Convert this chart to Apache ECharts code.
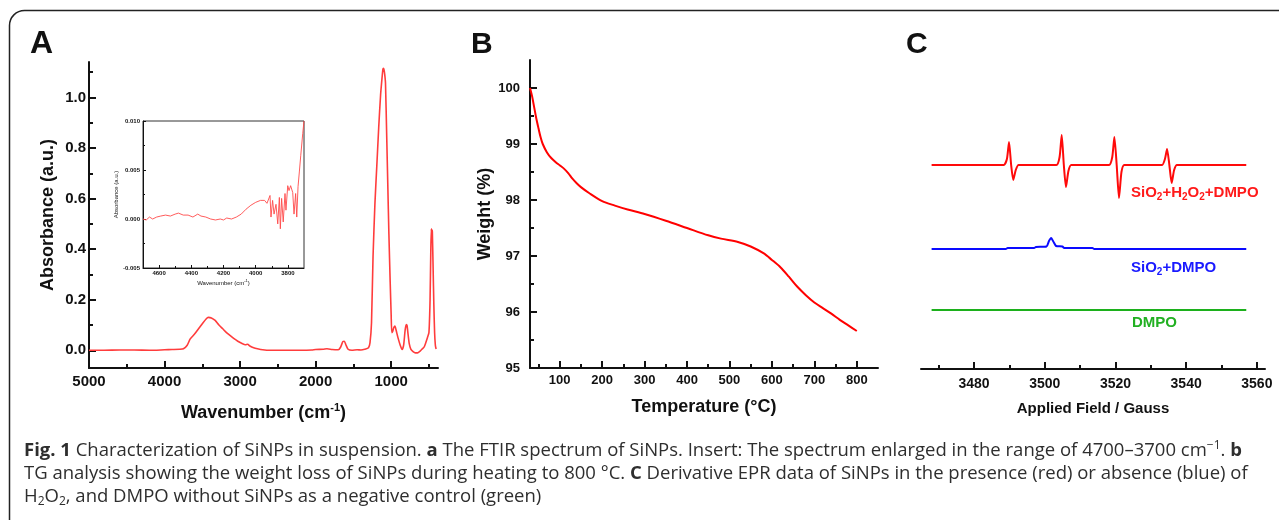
<!DOCTYPE html>
<html><head><meta charset="utf-8">
<script src="https://cdn.jsdelivr.net/npm/echarts@6/dist/echarts.min.js"></script>
<style>html,body{margin:0;padding:0;background:#fff}#c{width:1279px;height:520px}</style>
</head><body><div id="c"></div>
<script>
// ---------- Panel A: FTIR spectrum (wavenumber cm-1, absorbance a.u.) ----------
const ftirSpectrum = [
[5000,0.000],[4800,0.000],[4600,0.001],[4400,0.001],[4200,0.000],[4000,0.002],[3900,0.003],[3800,0.004],[3750,0.006],[3700,0.020],
[3660,0.045],[3600,0.065],[3550,0.085],[3500,0.105],[3450,0.124],[3420,0.130],[3380,0.128],[3330,0.118],[3280,0.100],[3230,0.085],
[3180,0.070],[3130,0.058],[3080,0.046],[3030,0.036],[2980,0.028],[2930,0.022],[2900,0.024],[2870,0.017],[2820,0.010],[2770,0.006],
[2700,0.002],[2600,0.000],[2400,0.000],[2200,0.000],[2050,0.001],[2000,0.003],[1900,0.004],[1850,0.006],[1780,0.003],[1700,0.002],
[1670,0.012],[1640,0.034],[1620,0.036],[1600,0.022],[1570,0.004],[1520,0.000],[1450,0.002],[1400,0.001],[1350,0.004],[1300,0.010],
[1280,0.030],[1260,0.110],[1240,0.370],[1215,0.580],[1190,0.730],[1165,0.880],[1140,1.010],[1120,1.080],[1110,1.110],[1102,1.115],
[1095,1.110],[1085,1.090],[1075,1.056],[1060,0.860],[1045,0.660],[1030,0.460],[1013,0.270],[1000,0.140],[992,0.070],[980,0.075],
[965,0.090],[950,0.096],[935,0.080],[910,0.050],[880,0.020],[855,0.003],[835,0.020],[815,0.080],[800,0.102],[790,0.098],
[775,0.060],[760,0.025],[740,0.005],[710,-0.005],[680,-0.010],[650,-0.010],[620,-0.004],[590,0.005],[560,0.015],[520,0.050],
[500,0.070],[485,0.200],[475,0.400],[468,0.480],[463,0.440],[458,0.475],[455,0.470],[445,0.330],[435,0.180],[425,0.070],
[415,0.020],[405,0.005]
];
const ftirXTicks = [5000,4000,3000,2000,1000];
const ftirXMinor = [4500,3500,2500,1500,500];
const ftirYTicks = [0,0.2,0.4,0.6,0.8,1.0];
const ftirYMinor = [0.1,0.3,0.5,0.7,0.9,1.1];

// ---------- Panel A inset: 4700-3700 cm-1 ----------
const insetSpectrum = [
[4700,0.0000],[4680,-0.0001],[4660,0.0002],[4640,0.0000],[4615,0.0002],[4590,0.0003],[4560,0.0004],[4530,0.0003],[4500,0.0005],[4480,0.0006],
[4450,0.0004],[4420,0.0004],[4390,0.0002],[4360,0.0005],[4340,0.0003],[4310,0.0002],[4280,0.0000],[4250,-0.0001],[4220,0.0000],[4200,-0.0001],
[4180,0.0001],[4150,0.0000],[4120,0.0002],[4090,0.0005],[4060,0.0010],[4030,0.0014],[4000,0.0017],[3970,0.0019],[3945,0.0019],[3930,0.0016],
[3921,0.0015],[3911,0.0024],[3905,0.0002],[3895,0.0019],[3886,0.0005],[3874,0.0015],[3863,-0.0005],[3853,0.0022],[3847,-0.0010],[3839,0.0021],
[3829,-0.0003],[3818,0.0026],[3812,0.0009],[3801,0.0034],[3793,0.0029],[3783,0.0034],[3770,0.0027],[3762,0.0005],[3752,0.0026],[3745,0.0002],
[3737,0.0033],[3729,0.0048],[3720,0.0065],[3712,0.0063],[3708,0.0087],[3700,0.0100]
];
const insetXTicks = [4600,4400,4200,4000,3800];
const insetXMinor = [4500,4300,4100,3900];
const insetYTicks = [-0.005,0,0.005,0.010];
const insetYMinor = [-0.0025,0.0025,0.0075];

// ---------- Panel B: TG curve (temperature °C, weight %) ----------
const tgCurve = [
[30,100.00],[35,99.85],[40,99.65],[45,99.45],[50,99.28],[55,99.12],[60,99.00],[70,98.85],[80,98.75],[90,98.68],
[100,98.62],[110,98.56],[120,98.48],[130,98.38],[140,98.30],[150,98.23],[170,98.12],[200,97.98],[230,97.90],[260,97.83],
[300,97.75],[350,97.63],[400,97.50],[450,97.37],[480,97.31],[520,97.25],[550,97.17],[580,97.05],[600,96.93],[620,96.80],
[640,96.63],[660,96.45],[680,96.30],[700,96.17],[720,96.07],[740,95.97],[760,95.86],[780,95.76],[800,95.66]
];
const tgXTicks = [100,200,300,400,500,600,700,800];
const tgXMinor = [50,150,250,350,450,550,650,750];
const tgYTicks = [95,96,97,98,99,100];
const tgYMinor = [95.5,96.5,97.5,98.5,99.5];

// ---------- Panel C: EPR derivative spectra (field G, offset signal) ----------
const eprSiO2H2O2 = [
[3468,20.4],[3488.4,20.4],[3489.3,21.0],[3489.9,22.7],[3490.5,20.4],[3491.1,18.9],[3491.8,19.9],[3492.6,20.4],
[3503.3,20.4],[3504.2,21.2],[3504.8,23.4],[3505.4,20.4],[3506.0,18.2],[3506.7,19.8],[3507.5,20.4],
[3518.2,20.4],[3519.1,21.2],[3519.7,23.2],[3520.35,20.4],[3521.0,17.1],[3521.7,19.7],[3522.5,20.4],
[3533.2,20.4],[3534.0,21.0],[3534.6,22.0],[3535.25,20.4],[3535.9,18.6],[3536.6,19.9],[3537.4,20.4],[3557,20.4]
];
const eprSiO2 = [
[3468,12.0],[3489,12.0],[3489.5,12.1],[3497,12.1],[3497.5,12.2],[3500.5,12.25],[3501.2,12.8],[3501.8,13.1],[3502.5,12.7],
[3503.2,12.3],[3505,12.25],[3505.5,12.1],[3513.5,12.1],[3514,12.0],[3557,12.0]
];
const eprDMPO = [[3468,5.9],[3557,5.9]];
const eprXTicks = [3480,3500,3520,3540,3560];
const eprXMinor = [3470,3490,3510,3530,3550];
const eprLabels = ['{t|SiO}{s|2}{t|+H}{s|2}{t|O}{s|2}{t|+DMPO}', '{t|SiO}{s|2}{t|+DMPO}', '{t|DMPO}'];

const AX = '#111';
const FONT = 'Arial, "Liberation Sans", sans-serif';
const CAPFONT = '"Open Sans", Arial, sans-serif';

function makeAxes(grid, pos, min, max, ticks, minor, o) {
  const base = {gridIndex: grid, type: 'value', position: pos, min: min, max: max, inverse: !!o.inverse,
    splitLine: {show: false}, axisPointer: {show: false}, z: o.z || 0};
  const lw = o.lw || 2, tl = o.tl || 7;
  const major = Object.assign({}, base, {
    axisLine: {show: true, onZero: false, lineStyle: {color: AX, width: lw}},
    axisTick: {show: true, inside: true, length: tl, customValues: ticks, lineStyle: {color: AX, width: lw}},
    axisLabel: {show: true, customValues: ticks, formatter: o.fmt || (v => String(v)), margin: o.margin, color: AX,
      fontFamily: FONT, fontWeight: 'bold', fontSize: o.fs},
    name: o.name || '', nameLocation: 'middle', nameGap: o.nameGap,
    nameTextStyle: Object.assign({color: AX, fontFamily: FONT, fontWeight: 'bold', fontSize: o.nfs}, o.nameStyle || {})
  });
  const minorAx = Object.assign({}, base, {
    axisLine: {show: false, onZero: false}, axisLabel: {show: false},
    axisTick: {show: true, inside: true, length: Math.round(tl / 2), customValues: minor, lineStyle: {color: AX, width: lw}}
  });
  return [major, minorAx];
}

const ax = {
  aX: makeAxes(0, 'bottom', 380, 5000, ftirXTicks, ftirXMinor, {inverse: true, fs: 15, margin: 6, name: 'Wavenumber (cm{sup|-1})', nameGap: 34, nfs: 18,
        nameStyle: {lineHeight: 22, rich: {sup: {fontSize: 11, fontWeight: 'bold', fontFamily: FONT, color: AX, verticalAlign: 'top', lineHeight: 12}}}}),
  aY: makeAxes(0, 'left', -0.07, 1.14, ftirYTicks, ftirYMinor, {fs: 15, margin: 3, fmt: v => v.toFixed(1), name: 'Absorbance (a.u.)', nameGap: 32, nfs: 18}),
  iX: makeAxes(1, 'bottom', 3700, 4700, insetXTicks, insetXMinor, {inverse: true, fs: 6, margin: 2, lw: 1, tl: 3, z: 5, name: 'Wavenumber (cm{sup|-1})', nameGap: 11, nfs: 6,
        nameStyle: {fontWeight: 'normal', lineHeight: 8, rich: {sup: {fontSize: 4, fontFamily: FONT, color: AX, verticalAlign: 'top', lineHeight: 4}}}}),
  iY: makeAxes(1, 'left', -0.005, 0.010, insetYTicks, insetYMinor, {fs: 6, margin: 3, lw: 1, tl: 3, z: 5, fmt: v => v.toFixed(3), name: 'Absorbance (a.u.)', nameGap: 21, nfs: 6,
        nameStyle: {fontWeight: 'normal'}}),
  bX: makeAxes(2, 'bottom', 30, 850, tgXTicks, tgXMinor, {fs: 13, margin: 6, name: 'Temperature (°C)', nameGap: 30, nfs: 18}),
  bY: makeAxes(2, 'left', 95, 100.5, tgYTicks, tgYMinor, {fs: 13, margin: 10, name: 'Weight (%)', nameGap: 34, nfs: 18}),
  cX: makeAxes(3, 'bottom', 3465, 3562.3, eprXTicks, eprXMinor, {fs: 14, margin: 8, name: 'Applied Field / Gauss', nameGap: 32, nfs: 15})
};

const xAxis = [].concat(ax.aX, ax.iX, ax.bX, ax.cX);
const yAxis = [].concat(ax.aY, ax.iY, ax.bY, [{gridIndex: 3, type: 'value', min: 0, max: 30.9, show: false}]);

function txt(x, y, text, size, color, rich) {
  return {type: 'text', x: x, y: y, silent: true, z: 10,
    style: {text: text, fill: color, font: size, align: 'left', verticalAlign: 'middle', rich: rich || {}}};
}
function eprRich(color) {
  return {
    t: {fill: color, color: color, fontSize: 15, fontWeight: 'bold', fontFamily: FONT, lineHeight: 18},
    s: {fill: color, color: color, fontSize: 10, fontWeight: 'bold', fontFamily: FONT, lineHeight: 9, verticalAlign: 'bottom'}
  };
}
const CAPC = '#2e2e2e';
const CAPFS = 18.5;
const capRich = {
  b: {fill: CAPC, fontSize: CAPFS, fontWeight: 'bold', fontFamily: CAPFONT, lineHeight: 22},
  n: {fill: CAPC, fontSize: CAPFS, fontFamily: CAPFONT, lineHeight: 22},
  sup: {fill: CAPC, fontSize: 12, fontFamily: CAPFONT, lineHeight: 12, verticalAlign: 'top'},
  sub: {fill: CAPC, fontSize: 12, fontFamily: CAPFONT, lineHeight: 11, verticalAlign: 'bottom'}
};

const option = {
  animation: false,
  backgroundColor: '#fff',
  grid: [
    {left: 89, top: 62, width: 349, height: 306},
    {left: 143, top: 121, width: 161, height: 147, show: true, borderColor: '#333', borderWidth: 1, backgroundColor: '#fff'},
    {left: 530, top: 60, width: 348, height: 308},
    {left: 921, top: 60, width: 344, height: 309}
  ],
  xAxis: xAxis,
  yAxis: yAxis,
  series: [
    {type: 'line', xAxisIndex: 0, yAxisIndex: 0, data: ftirSpectrum, showSymbol: false, smooth: 0.2,
      lineStyle: {color: '#ff3c3c', width: 1.6}, z: 3},
    {type: 'line', xAxisIndex: 2, yAxisIndex: 2, data: insetSpectrum, showSymbol: false,
      lineStyle: {color: '#ff4a4a', width: 0.9}, z: 6},
    {type: 'line', xAxisIndex: 4, yAxisIndex: 4, data: tgCurve, showSymbol: false, smooth: 0.3,
      lineStyle: {color: '#ff0000', width: 2}},
    {type: 'line', xAxisIndex: 6, yAxisIndex: 6, data: eprSiO2H2O2, showSymbol: false, smooth: 0.2,
      lineStyle: {color: '#ff0a0a', width: 2}},
    {type: 'line', xAxisIndex: 6, yAxisIndex: 6, data: eprSiO2, showSymbol: false, smooth: 0.2,
      lineStyle: {color: '#0a0aff', width: 2}},
    {type: 'line', xAxisIndex: 6, yAxisIndex: 6, data: eprDMPO, showSymbol: false,
      lineStyle: {color: '#1cb01c', width: 2}}
  ],
  graphic: [
    {type: 'rect', silent: true, z: -1, shape: {x: 9.5, y: 10.5, width: 1300, height: 540, r: 15},
      style: {fill: 'none', stroke: '#222', lineWidth: 1.5}},
    txt(30, 44, 'A', 'bold 32px ' + FONT, '#111'),
    txt(471, 45, 'B', 'bold 30px ' + FONT, '#111'),
    txt(906, 45, 'C', 'bold 30px ' + FONT, '#111'),
    txt(1131, 193, eprLabels[0], 'bold 15px ' + FONT, '#ff1a1a', eprRich('#ff1a1a')),
    txt(1131, 268, eprLabels[1], 'bold 15px ' + FONT, '#1a1aff', eprRich('#1a1aff')),
    txt(1132, 323, eprLabels[2], 'bold 15px ' + FONT, '#22b022', eprRich('#22b022')),
    txt(24, 451, '{b|Fig. 1}{n| Characterization of SiNPs in suspension. }{b|a}{n| The FTIR spectrum of SiNPs. Insert: The spectrum enlarged in the range of 4700–3700 cm}{sup|−1}{n|. }{b|b}',
      CAPFS + 'px ' + CAPFONT, CAPC, capRich),
    txt(24, 474, '{n|TG analysis showing the weight loss of SiNPs during heating to 800 °C. }{b|C}{n| Derivative EPR data of SiNPs in the presence (red) or absence (blue) of}',
      CAPFS + 'px ' + CAPFONT, CAPC, capRich),
    txt(24, 497, '{n|H}{sub|2}{n|O}{sub|2}{n|, and DMPO without SiNPs as a negative control (green)}',
      CAPFS + 'px ' + CAPFONT, CAPC, capRich)
  ]
};

const chart = echarts.init(document.getElementById('c'), null, {renderer: 'canvas'});
chart.setOption(option);
</script>
</body></html>
